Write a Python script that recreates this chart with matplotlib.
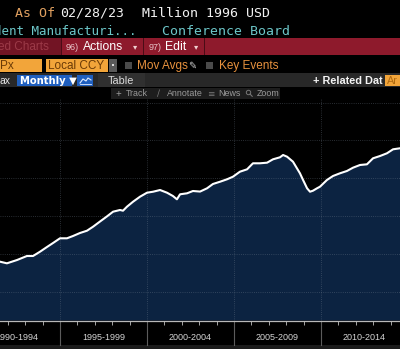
import matplotlib
matplotlib.use("Agg")
import matplotlib.pyplot as plt
from matplotlib.patches import Rectangle, Circle

# Coincident Manufacturing & Trade sales, Million 1996 USD
years = [1991.55, 1991.95, 1992.53, 1993.10, 1993.45, 1993.85, 1994.25, 1994.60,
         1995.00, 1995.40, 1995.75, 1996.15, 1996.55, 1996.90, 1997.30, 1997.70,
         1998.05, 1998.45, 1998.62, 1998.85, 1999.20, 1999.60, 2000.00, 2000.35,
         2000.75, 2001.15, 2001.49, 2001.72, 2001.90, 2002.30, 2002.64, 2003.05,
         2003.45, 2003.79, 2004.20, 2004.60, 2004.94, 2005.34, 2005.75, 2006.09,
         2006.49, 2006.90, 2007.24, 2007.64, 2007.82, 2008.05, 2008.39, 2008.79,
         2008.97, 2009.20, 2009.37, 2009.54, 2009.77, 2009.94, 2010.34, 2010.69,
         2011.09, 2011.49, 2011.84, 2012.24, 2012.64, 2012.99, 2013.39, 2013.79,
         2014.14, 2014.54]
sales = [680000, 675700, 684400, 695000, 695000, 706300, 718700, 729300,
         741700, 741700, 747800, 755700, 761700, 772300, 786000, 799500,
         811900, 816400, 814500, 825100, 838300, 851500, 862000, 864600,
         869100, 862000, 853300, 844600, 857800, 860400, 866500, 865000,
         873600, 885000, 891000, 897400, 904200, 917400, 923700, 939600,
         939600, 941200, 950100, 955400, 961500, 957000, 943800, 913200,
         895500, 873600, 864600, 867300, 873600, 877800, 895500, 906100,
         913200, 919300, 928000, 935100, 936900, 952800, 958800, 966000,
         976500, 979200]

period_starts = [1990, 1995, 2000, 2005, 2010]
period_labels = ["1990-1994", "1995-1999", "2000-2004", "2005-2009", "2010-2014"]
y_grid = [600000, 700000, 800000, 900000, 1000000, 1100000]

W, H = 400, 349
fig = plt.figure(figsize=(W / 100, H / 100), dpi=100, facecolor="black")

# pixel-space background layer for the terminal header
bg = fig.add_axes([0, 0, 1, 1])
bg.set_xlim(0, W)
bg.set_ylim(H, 0)
bg.axis("off")


def box(x0, y0, x1, y1, color):
    bg.add_patch(Rectangle((x0, y0), x1 - x0, y1 - y0, color=color, lw=0))


def txt(x, y, s, color, size=8, family="Liberation Sans", weight="normal", **kw):
    bg.text(x, y, s, color=color, fontsize=size, family=family, weight=weight,
            va="baseline", ha="left", **kw)


mono = "DejaVu Sans Mono"
# row 1 / row 2
txt(15, 17, "As Of", "#e0a060", 9.5, mono)
txt(60, 17, "02/28/23", "#f2f2f2", 9.5, mono)
txt(142, 17, "Million 1996 USD", "#f2f2f2", 9.5, mono)
txt(-6.5, 35, "dent Manufacturi...", "#6cc6c8", 9, mono)
txt(162, 35, "Conference Board", "#6cc6c8", 9.5, mono)

# row 3: red menu bar
box(0, 37.5, W, 55, "#8e1a2c")
box(0, 37.5, 61, 55, "#721424")
for sx in [61, 143, 204]:
    box(sx, 37.5, sx + 1, 55, "#4a0c16")
txt(-2, 50.5, "ed Charts", "#9c3a48", 8.5)
txt(66, 50.5, "96)", "#e8c4c8", 6.5)
txt(83, 50.5, "Actions", "#ffffff", 8.8)
txt(133, 49.5, "\u25be", "#f0d0d0", 6, family="DejaVu Sans")
txt(149, 50.5, "97)", "#e8c4c8", 6.5)
txt(165, 50.5, "Edit", "#ffffff", 8.8)
txt(194, 49.5, "\u25be", "#f0d0d0", 6, family="DejaVu Sans")

# row 4
box(0, 59, 42, 71.5, "#f2a53a")
txt(0, 69, "Px", "#6a3a06", 8.5)
box(46, 59, 108, 71.5, "#f2a53a")
txt(48, 69, "Local CCY", "#6a3a06", 8.5)
box(109, 59, 117, 71.5, "#5a5a5a")
box(112, 64, 114, 66, "#dddddd")
box(125, 61.5, 132, 68.5, "#4a4a4a")
txt(137, 69, "Mov Avgs", "#e8923e", 8.5)
txt(188, 69, "\u270e", "#cfcfcf", 7, family="DejaVu Sans")
box(206, 61.5, 213, 68.5, "#4a4a4a")
txt(219, 69, "Key Events", "#e8923e", 8.5)

# row 5
box(0, 73, W, 87, "#282828")
box(98, 73, 145, 87, "#303030")
txt(-1, 84, "ax", "#e6e6e6", 7.5)
box(17, 75, 72, 86, "#1f5fbf")
txt(20, 84, "Monthly \u25bc", "#ffffff", 7.2, family="DejaVu Sans", weight="bold")
box(77, 75, 93, 86, "#1f5fbf")
bg.plot([80, 83, 86, 88, 91], [83, 79, 81, 78, 80], color="#e0ecff", lw=0.8)
bg.plot([80, 91], [84, 84], color="#e0ecff", lw=0.6)
txt(108, 84, "Table", "#dcdcdc", 7.8)
txt(313, 84, "+ Related Dat", "#f4f4f4", 7.8, weight="bold")
box(385, 75, W, 86, "#f2a53a")
txt(387, 84, "Ar", "#b06a10", 7.8)

# row 6: chart tools
box(111, 88, 280, 99, "#1d1d1d")
tool_grey = "#9a9a9a"
txt(116, 96.5, "+", tool_grey, 7)
txt(126, 96.5, "Track", tool_grey, 6.4)
txt(157, 96.5, "\u2215", "#777777", 6.4, family="DejaVu Sans")
txt(167, 96.5, "Annotate", tool_grey, 6.4)
txt(207, 96.5, "\u2261", "#777777", 6.4, family="DejaVu Sans")
txt(218, 96.5, "News", tool_grey, 6.4)
bg.add_patch(Circle((248.5, 92.5), 2.2, fill=False, ec="#777777", lw=0.7))
bg.plot([250.1, 252.2], [94.1, 96.3], color="#777777", lw=0.8)
txt(257, 96.5, "Zoom", tool_grey, 6.4)

# bottom strip
box(0, 345, W, H, "#1b1b1b")

# chart
ax_bottom, ax_top = 320.5, 99.0
ax = fig.add_axes([0, (H - ax_bottom) / H, 1, (ax_bottom - ax_top) / H])
ax.set_facecolor("black")
x0 = 1995 - 60 / 17.4
x1 = 1995 + 340 / 17.4
ppv = 37.9 / 100000  # pixels per value unit
ylo = 600000 - (ax_bottom - 292) / ppv
yhi = 600000 + (292 - ax_top) / ppv
ax.set_xlim(x0, x1)
ax.set_ylim(ylo, yhi)

ax.fill_between(years, sales, ylo, color="#0c2341", lw=0, zorder=1)
ax.plot(years, sales, color="#ffffff", lw=1.5, zorder=3, solid_joinstyle="round")

ax.set_yticks(y_grid)
ax.set_xticks(period_starts[1:])
ax.set_xticks(range(1992, 2015), minor=True)
ax.grid(True, which="major", color="#7a8696", alpha=0.45, ls=(0, (1, 1.6)), lw=0.6)
ax.set_axisbelow(False)
for g in ax.get_xgridlines() + ax.get_ygridlines():
    g.set_zorder(2)
ax.tick_params(axis="both", which="major", length=0, labelleft=False, labelbottom=False)
ax.tick_params(axis="x", which="minor", length=3, width=0.6, color="#c0c0c0", direction="out")
for side in ["top", "left", "right"]:
    ax.spines[side].set_visible(False)
ax.spines["bottom"].set_color("#b8b8b8")
ax.spines["bottom"].set_linewidth(0.9)

trans = ax.get_xaxis_transform()
span = ax_bottom - ax_top
for ps in period_starts[1:]:
    ax.plot([ps, ps], [0, -(345 - ax_bottom) / span], transform=trans,
            color="#5c5c5c", lw=0.8, clip_on=False)
for ps, lab in zip(period_starts, period_labels):
    ax.text(ps + 2.5, -(337 - ax_bottom) / span, lab, transform=trans, ha="center",
            va="center", color="#d4d4d4", fontsize=6.5, family="Liberation Sans")

fig.savefig("out.png", dpi=100, facecolor="black")
